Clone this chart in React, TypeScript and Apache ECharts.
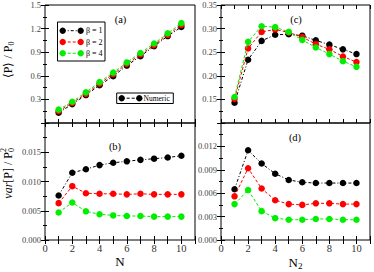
import React, { useEffect, useRef } from "react";
import * as echarts from "echarts";

const N = [1, 2, 3, 4, 5, 6, 7, 8, 9, 10];
const seriesNames = ["β = 1", "β = 2", "β = 4"];
const seriesColors = ["#000000", "#ff0000", "#00ee00"];
const seriesDash: number[][] = [[3, 2, 1, 2], [3, 2], [3, 2]];

const aBeta1 = [0.13, 0.24, 0.355, 0.48, 0.595, 0.73, 0.85, 0.975, 1.105, 1.22];
const aBeta2 = [0.15, 0.255, 0.37, 0.5, 0.62, 0.75, 0.87, 0.99, 1.12, 1.245];
const aBeta4 = [0.17, 0.27, 0.39, 0.52, 0.64, 0.77, 0.89, 1.01, 1.14, 1.27];

const bBeta1 = [0.0076, 0.0115, 0.0121, 0.0128, 0.0132, 0.01345, 0.0137, 0.0139, 0.0141, 0.0144];
const bBeta2 = [0.0063, 0.0092, 0.008, 0.0079, 0.0079, 0.0078, 0.0079, 0.0078, 0.0078, 0.0078];
const bBeta4 = [0.0047, 0.0064, 0.0049, 0.0044, 0.0042, 0.0041, 0.0041, 0.004, 0.004, 0.004];

const cBeta1 = [0.143, 0.234, 0.274, 0.287, 0.288, 0.285, 0.275, 0.266, 0.256, 0.246];
const cBeta2 = [0.151, 0.258, 0.293, 0.298, 0.292, 0.282, 0.267, 0.256, 0.241, 0.229];
const cBeta4 = [0.155, 0.272, 0.305, 0.303, 0.293, 0.276, 0.26, 0.246, 0.231, 0.219];

const dBeta1 = [0.0065, 0.0115, 0.0098, 0.0085, 0.0077, 0.0074, 0.0073, 0.0073, 0.0073, 0.0073];
const dBeta2 = [0.0056, 0.0092, 0.0066, 0.0051, 0.0046, 0.0045, 0.0047, 0.0047, 0.0046, 0.0046];
const dBeta4 = [0.0046, 0.0064, 0.0037, 0.0028, 0.0026, 0.0026, 0.0027, 0.0027, 0.0026, 0.0026];

const xTicks = [0, 2, 4, 6, 8, 10];
const panelLabels = ["(a)", "(b)", "(c)", "(d)"];

const FONT = "Liberation Serif, serif";

export default function App() {
  const ref = useRef<HTMLDivElement>(null);

  useEffect(() => {
    if (!ref.current) return;
    const chart = echarts.init(ref.current, null, { renderer: "svg" });

    const grids = [
      { left: 45, top: 5, width: 150, height: 118 },
      { left: 45, top: 123, width: 150, height: 117 },
      { left: 221, top: 5, width: 149, height: 118 },
      { left: 221, top: 123, width: 149, height: 117 },
    ].map((g) => ({ ...g, show: true, borderColor: "#000", borderWidth: 1, backgroundColor: "transparent" }));

    const yCfg = [
      { min: 0, max: 1.5, interval: 0.3, fmt: (v: number) => (v < 0.01 ? "" : v.toFixed(1)) },
      { min: 0, max: 0.02, interval: 0.005, fmt: (v: number) => (v > 0.0175 ? "" : v.toFixed(3)) },
      { min: 0.1, max: 0.35, interval: 0.05, fmt: (v: number) => (v < 0.12 ? "" : v.toFixed(2)) },
      { min: 0, max: 0.015, interval: 0.003, fmt: (v: number) => (v > 0.0135 ? "" : v.toFixed(3)) },
    ];

    const tick = { show: true, inside: true, length: 4, lineStyle: { color: "#000", width: 1 } };
    const minor = { show: true, splitNumber: 2, length: 2, lineStyle: { color: "#000", width: 1 } };

    const xAxis: any[] = [];
    const yAxis: any[] = [];
    for (let i = 0; i < 4; i++) {
      const isBottom = i === 1 || i === 3;
      xAxis.push({
        type: "value",
        gridIndex: i,
        min: 0,
        max: 11,
        interval: 1,
        position: "bottom",
        axisLine: { show: false },
        axisTick: tick,
        splitLine: { show: false },
        axisLabel: {
          show: isBottom,
          fontFamily: FONT,
          fontSize: 10.5,
          color: "#333",
          margin: 3,
          formatter: (v: number) => (xTicks.indexOf(v) >= 0 ? String(v) : ""),
        },
        name: isBottom ? (i === 1 ? "N" : "{m|N}{s|2}") : "",
        nameLocation: "middle",
        nameGap: 14,
        nameTextStyle: {
          fontFamily: FONT,
          fontSize: 13,
          color: "#000",
          rich: {
            m: { fontFamily: FONT, fontSize: 13, color: "#000", verticalAlign: "middle" },
            s: { fontFamily: FONT, fontSize: 9, color: "#000", verticalAlign: "middle", padding: [7, 0, 0, 0] },
          },
        },
      });
      xAxis.push({
        type: "value",
        gridIndex: i,
        min: 0,
        max: 11,
        interval: 1,
        position: "top",
        axisLine: { show: false },
        axisTick: tick,
        splitLine: { show: false },
        axisLabel: { show: false },
      });
      const yc = yCfg[i];
      yAxis.push({
        type: "value",
        gridIndex: i,
        min: yc.min,
        max: yc.max,
        interval: yc.interval,
        position: "left",
        axisLine: { show: false },
        axisTick: tick,
        minorTick: minor,
        splitLine: { show: false },
        axisLabel: { fontFamily: FONT, fontSize: 8.5, color: "#444", margin: 4, formatter: yc.fmt },
      });
      yAxis.push({
        type: "value",
        gridIndex: i,
        min: yc.min,
        max: yc.max,
        interval: yc.interval,
        position: "right",
        axisLine: { show: false },
        axisTick: tick,
        minorTick: minor,
        splitLine: { show: false },
        axisLabel: { show: false },
      });
    }

    const panelData = [
      [aBeta1, aBeta2, aBeta4],
      [bBeta1, bBeta2, bBeta4],
      [cBeta1, cBeta2, cBeta4],
      [dBeta1, dBeta2, dBeta4],
    ];

    const series: any[] = [];
    panelData.forEach((sets, p) => {
      sets.forEach((vals, k) => {
        series.push({
          type: "line",
          name: seriesNames[k],
          xAxisIndex: p * 2,
          yAxisIndex: p * 2,
          data: N.map((n, j) => [n, vals[j]]),
          symbol: "circle",
          symbolSize: 6.5,
          showSymbol: true,
          itemStyle: { color: seriesColors[k] },
          lineStyle: { color: seriesColors[k], width: 1, type: seriesDash[k] },
          z: 2 + k,
        });
      });
    });

    const labelPos = [
      [120.5, 19],
      [115, 146],
      [296, 19],
      [295, 137.5],
    ];

    const graphic: any[] = [];
    panelLabels.forEach((t, i) => {
      graphic.push({
        type: "text",
        x: labelPos[i][0],
        y: labelPos[i][1],
        z: 50,
        style: { text: t, fontFamily: FONT, fontSize: 10.5, fill: "#000", align: "center", verticalAlign: "middle" },
      });
    });

    graphic.push({
      type: "group",
      x: 8,
      y: 41,
      rotation: Math.PI / 2,
      z: 50,
      children: [
        {
          type: "text",
          x: -4.5,
          y: 0,
          style: { text: "⟨P⟩ / P", fontFamily: FONT, fontSize: 12, fill: "#000", align: "right", verticalAlign: "middle" },
        },
        {
          type: "text",
          x: -4.5,
          y: 3.5,
          style: { text: "0", fontFamily: FONT, fontSize: 8, fill: "#000", align: "left", verticalAlign: "middle" },
        },
      ],
    });
    graphic.push({
      type: "group",
      x: 8,
      y: 147,
      rotation: Math.PI / 2,
      z: 50,
      children: [
        {
          type: "text",
          x: -5,
          y: 0,
          style: {
            text: "{i|var}{a|[P] / P}",
            align: "right",
            verticalAlign: "middle",
            rich: {
              i: { fontFamily: FONT, fontSize: 12, fontStyle: "italic", fill: "#000", color: "#000" },
              a: { fontFamily: FONT, fontSize: 12, fill: "#000", color: "#000" },
            },
          },
        },
        {
          type: "text",
          x: -5,
          y: 3.5,
          style: { text: "0", fontFamily: FONT, fontSize: 8, fill: "#000", align: "left", verticalAlign: "middle" },
        },
        {
          type: "text",
          x: -5,
          y: -4.5,
          style: { text: "2", fontFamily: FONT, fontSize: 8, fill: "#000", align: "left", verticalAlign: "middle" },
        },
      ],
    });

    const legRows = [30.7, 42, 53.3];
    graphic.push({
      type: "rect",
      z: 60,
      shape: { x: 57.5, y: 22, width: 47.5, height: 39 },
      style: { fill: "#fff", stroke: "#000", lineWidth: 1 },
    });
    legRows.forEach((yy, k) => {
      graphic.push({
        type: "line",
        z: 61,
        shape: { x1: 62.7, y1: yy, x2: 80.7, y2: yy },
        style: { stroke: seriesColors[k], lineWidth: 1, lineDash: seriesDash[k] },
      });
      [62.7, 80.7].forEach((cx) =>
        graphic.push({ type: "circle", z: 62, shape: { cx, cy: yy, r: 3.2 }, style: { fill: seriesColors[k] } })
      );
      graphic.push({
        type: "text",
        z: 62,
        x: 86,
        y: yy,
        style: { text: seriesNames[k], fontFamily: FONT, fontSize: 8, fill: "#000", align: "left", verticalAlign: "middle" },
      });
    });

    graphic.push({
      type: "rect",
      z: 60,
      shape: { x: 116.7, y: 93, width: 56.6, height: 10.5 },
      style: { fill: "#fff", stroke: "#000", lineWidth: 1 },
    });
    graphic.push({
      type: "line",
      z: 61,
      shape: { x1: 121.7, y1: 98.2, x2: 139.3, y2: 98.2 },
      style: { stroke: "#000", lineWidth: 1, lineDash: [3, 2] },
    });
    [121.7, 139.3].forEach((cx) =>
      graphic.push({ type: "circle", z: 62, shape: { cx, cy: 98.2, r: 3.2 }, style: { fill: "#000" } })
    );
    graphic.push({
      type: "text",
      z: 62,
      x: 143.5,
      y: 98.2,
      style: { text: "Numeric", fontFamily: FONT, fontSize: 7.5, fill: "#000", align: "left", verticalAlign: "middle" },
    });

    chart.setOption({
      animation: false,
      backgroundColor: "#fff",
      grid: grids,
      xAxis,
      yAxis,
      series,
      graphic,
    });

    return () => chart.dispose();
  }, []);

  return <div ref={ref} style={{ position: "fixed", left: 0, top: 0, width: 374, height: 272 }} />;
}
